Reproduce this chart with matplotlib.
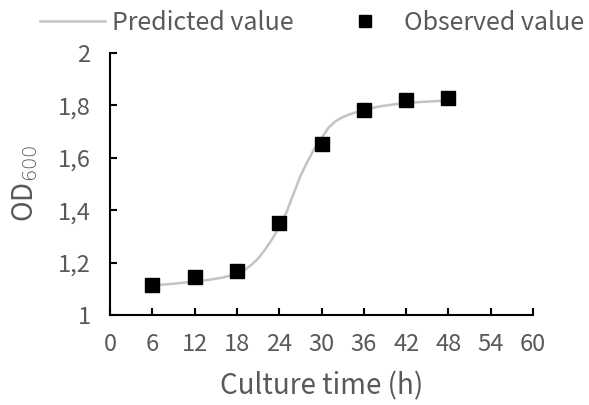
import matplotlib
matplotlib.use("Agg")
import matplotlib.pyplot as plt
from matplotlib.ticker import FuncFormatter, MultipleLocator

# observed OD600
obs_time = [6, 12, 18, 24, 30, 36, 42, 48]
obs_od = [1.116, 1.146, 1.168, 1.350, 1.653, 1.782, 1.821, 1.829]

# predicted curve
pred_time = [6, 8, 10, 12, 14, 16, 18, 19, 20, 21, 22, 23, 24, 25, 26, 27,
             28, 29, 30, 31, 32, 33, 34, 36, 38, 40, 42, 44, 46, 48]
pred_od = [1.113, 1.117, 1.122, 1.128, 1.134, 1.143, 1.158, 1.170, 1.190,
           1.215, 1.250, 1.290, 1.335, 1.390, 1.460, 1.530, 1.585, 1.635,
           1.675, 1.715, 1.740, 1.755, 1.766, 1.783, 1.795, 1.803, 1.809,
           1.813, 1.816, 1.818]

plt.rcParams['font.family'] = ['Noto Sans CJK SC', 'DejaVu Sans']
plt.rcParams['font.weight'] = 'light'
txt = '#595959'

W, H = 589, 405
fig = plt.figure(figsize=(W / 100, H / 100), dpi=100)
ax = fig.add_axes([110 / W, 1 - 315 / H, 423 / W, 262 / H])

ax.plot(pred_time, pred_od, color='#c3c3c3', lw=1.8, label='Predicted value', zorder=2)
ax.plot(obs_time, obs_od, ls='none', marker='s', ms=10, color='black',
        label='Observed value', zorder=3)

ax.set_xlim(0, 60)
ax.set_ylim(1, 2)
ax.xaxis.set_major_locator(MultipleLocator(6))
ax.yaxis.set_major_locator(MultipleLocator(0.2))
ax.yaxis.set_major_formatter(FuncFormatter(lambda v, p: f"{v:.1f}".rstrip('0').rstrip('.').replace('.', ',')))

for s in ['top', 'right']:
    ax.spines[s].set_visible(False)
for s in ['left', 'bottom']:
    ax.spines[s].set_linewidth(1.5)
ax.tick_params(direction='in', length=5, width=1.5, labelsize=17, labelcolor=txt)
ax.tick_params(axis='x', pad=13)
ax.tick_params(axis='y', pad=14)

ax.set_xlabel('Culture time (h)', fontsize=20, color=txt, va='center')
ax.xaxis.set_label_coords(0.5, (315 - 386) / 262)
ax.set_ylabel('OD$_{600}$', fontsize=20, color=txt, va='center', ha='center')
ax.yaxis.set_label_coords((25 - 110) / 423, (315 - 183) / 262)

fig.legend(loc='center left', bbox_to_anchor=(40 / W, 1 - 23 / H), ncol=2, frameon=False,
           fontsize=18, labelcolor=txt, handlelength=2.6, handletextpad=0.28,
           columnspacing=1.55, borderpad=0, borderaxespad=0, markerscale=0.8)

fig.savefig('out.png', dpi=100)
